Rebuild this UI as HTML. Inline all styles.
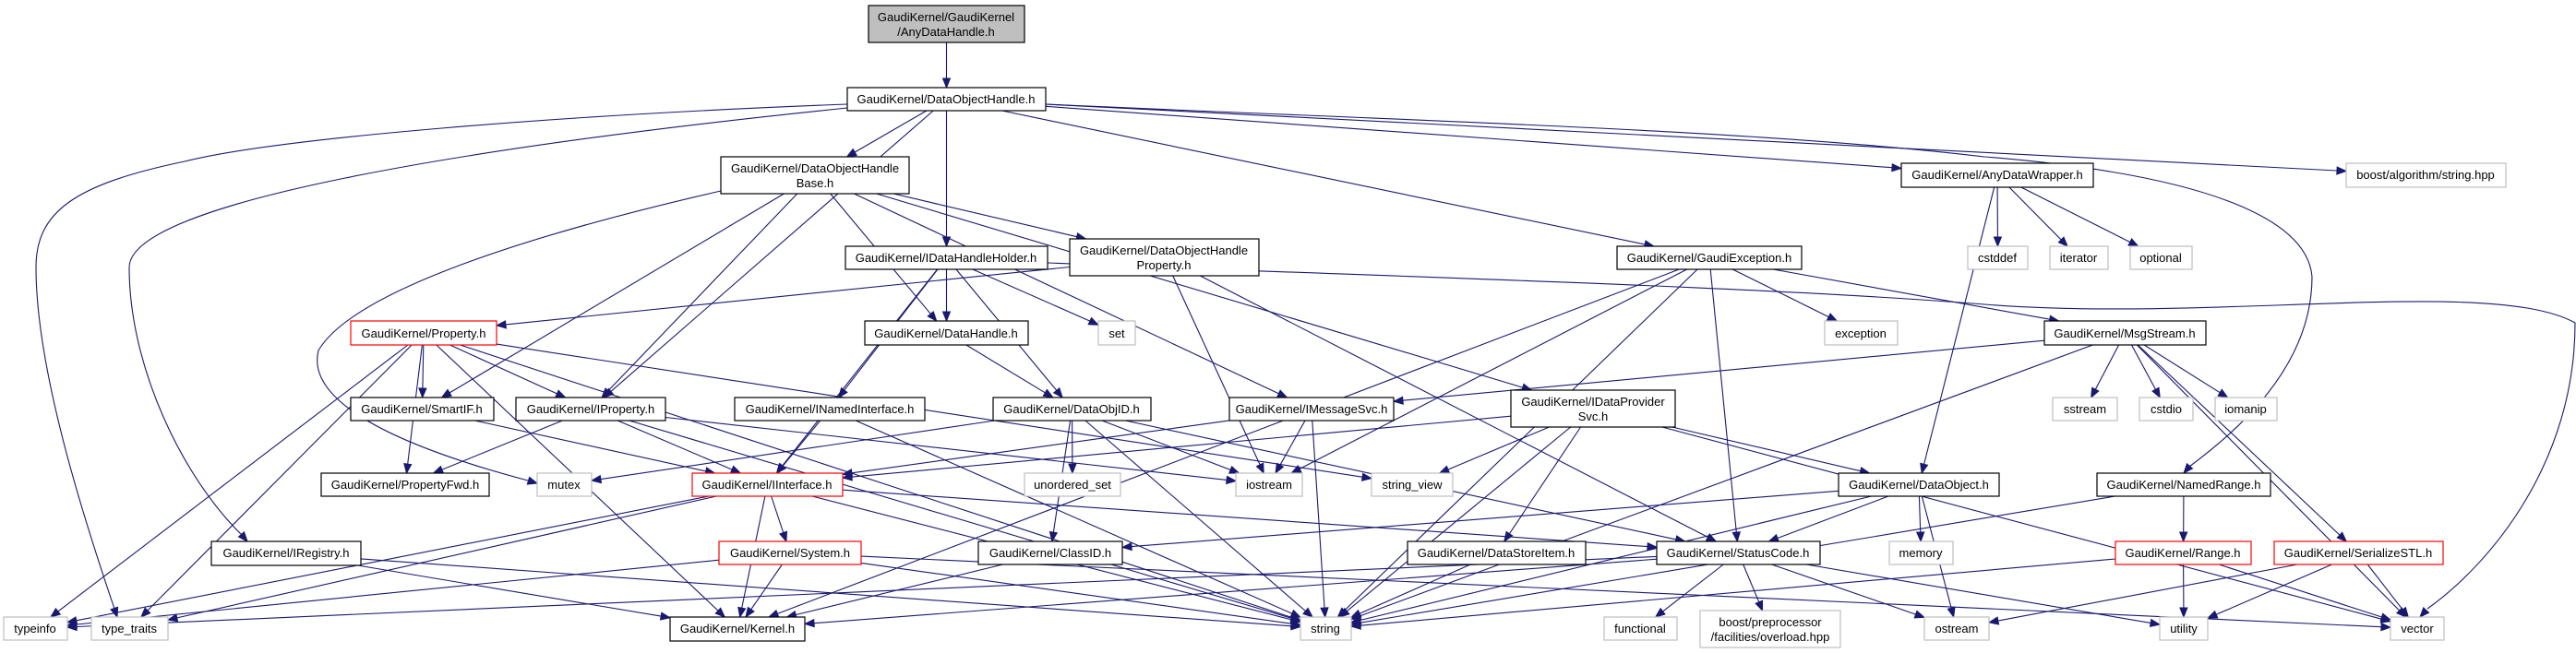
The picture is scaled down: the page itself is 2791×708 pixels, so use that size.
<!DOCTYPE html>
<html><head><meta charset="utf-8"><style>
html,body{margin:0;padding:0;background:#fff}
svg{display:block}
text{font-family:"Liberation Sans",sans-serif;font-size:13px;fill:#000;text-anchor:middle}
.n{fill:#fff;stroke:#000;stroke-width:1.2}
.g{fill:#fff;stroke:#bfbfbf;stroke-width:1.2}
.r{fill:#fff;stroke:#ff0000;stroke-width:1.2}
.e{stroke:#191970;stroke-width:1.1;fill:none}
.a{fill:#191970;stroke:#191970}
</style></head><body>
<svg id="s" width="2791" height="708" xmlns="http://www.w3.org/2000/svg">
<g id="edges"></g>
<rect x="941" y="6" width="169" height="40" fill="#bfbfbf" stroke="#000" stroke-width="1.2"/><text x="1025" y="23">GaudiKernel/GaudiKernel</text><text x="1025" y="39">/AnyDataHandle.h</text>
<rect class="n" x="918" y="95" width="215" height="25"/><text x="1025" y="112">GaudiKernel/DataObjectHandle.h</text>
<rect class="n" x="781" y="170" width="204" height="40"/><text x="883" y="187">GaudiKernel/DataObjectHandle</text><text x="883" y="203">Base.h</text>
<rect class="n" x="916" y="267" width="219" height="25"/><text x="1025" y="284">GaudiKernel/IDataHandleHolder.h</text>
<rect class="n" x="1159" y="259" width="205" height="40"/><text x="1261" y="276">GaudiKernel/DataObjectHandle</text><text x="1261" y="292">Property.h</text>
<rect class="n" x="937" y="348" width="177" height="26"/><text x="1025" y="366">GaudiKernel/DataHandle.h</text>
<rect class="g" x="1190" y="348" width="40" height="26"/><text x="1210" y="366">set</text>
<rect class="r" x="380" y="348" width="158" height="26"/><text x="459" y="366">GaudiKernel/Property.h</text>
<rect class="n" x="380" y="431" width="155" height="25"/><text x="457" y="448">GaudiKernel/SmartIF.h</text>
<rect class="n" x="559" y="431" width="162" height="25"/><text x="640" y="448">GaudiKernel/IProperty.h</text>
<rect class="n" x="348" y="513" width="182" height="25"/><text x="439" y="530">GaudiKernel/PropertyFwd.h</text>
<rect class="g" x="582" y="513" width="59" height="25"/><text x="611" y="530">mutex</text>
<rect class="n" x="229" y="587" width="162" height="26"/><text x="310" y="604">GaudiKernel/IRegistry.h</text>
<rect class="g" x="4" y="669" width="69" height="25"/><text x="38" y="686">typeinfo</text>
<rect class="g" x="99" y="669" width="83" height="25"/><text x="140" y="686">type_traits</text>
<rect class="n" x="796" y="431" width="206" height="25"/><text x="899" y="448">GaudiKernel/INamedInterface.h</text>
<rect class="n" x="1076" y="431" width="171" height="25"/><text x="1161" y="448">GaudiKernel/DataObjID.h</text>
<rect class="r" x="750" y="513" width="163" height="25"/><text x="831" y="530">GaudiKernel/IInterface.h</text>
<rect class="g" x="1110" y="513" width="104" height="25"/><text x="1162" y="530">unordered_set</text>
<rect class="g" x="1339" y="513" width="72" height="25"/><text x="1375" y="530">iostream</text>
<rect class="r" x="779" y="587" width="154" height="25"/><text x="856" y="604">GaudiKernel/System.h</text>
<rect class="n" x="1060" y="587" width="156" height="25"/><text x="1138" y="604">GaudiKernel/ClassID.h</text>
<rect class="n" x="726" y="669" width="146" height="26"/><text x="799" y="686">GaudiKernel/Kernel.h</text>
<rect class="n" x="1332" y="431" width="178" height="25"/><text x="1421" y="448">GaudiKernel/IMessageSvc.h</text>
<rect class="g" x="1486" y="513" width="88" height="25"/><text x="1530" y="530">string_view</text>
<rect class="n" x="1637" y="423" width="178" height="40"/><text x="1726" y="440">GaudiKernel/IDataProvider</text><text x="1726" y="456">Svc.h</text>
<rect class="n" x="1525" y="587" width="193" height="25"/><text x="1621" y="604">GaudiKernel/DataStoreItem.h</text>
<rect class="n" x="1795" y="587" width="177" height="25"/><text x="1883" y="604">GaudiKernel/StatusCode.h</text>
<rect class="g" x="1409" y="669" width="55" height="25"/><text x="1436" y="686">string</text>
<rect class="g" x="1738" y="669" width="79" height="25"/><text x="1777" y="686">functional</text>
<rect class="g" x="1842" y="662" width="152" height="40"/><text x="1918" y="679">boost/preprocessor</text><text x="1918" y="695">/facilities/overload.hpp</text>
<rect class="g" x="1977" y="348" width="79" height="26"/><text x="2016" y="366">exception</text>
<rect class="n" x="1992" y="513" width="174" height="25"/><text x="2079" y="530">GaudiKernel/DataObject.h</text>
<rect class="g" x="2047" y="587" width="69" height="25"/><text x="2081" y="604">memory</text>
<rect class="g" x="2085" y="669" width="70" height="25"/><text x="2120" y="686">ostream</text>
<rect class="n" x="1752" y="267" width="200" height="25"/><text x="1852" y="284">GaudiKernel/GaudiException.h</text>
<rect class="n" x="2060" y="177" width="208" height="26"/><text x="2164" y="194">GaudiKernel/AnyDataWrapper.h</text>
<rect class="g" x="2542" y="177" width="173" height="26"/><text x="2628" y="194">boost/algorithm/string.hpp</text>
<rect class="g" x="2132" y="267" width="65" height="25"/><text x="2164" y="284">cstddef</text>
<rect class="g" x="2221" y="267" width="63" height="25"/><text x="2252" y="284">iterator</text>
<rect class="g" x="2308" y="267" width="67" height="25"/><text x="2341" y="284">optional</text>
<rect class="n" x="2215" y="348" width="175" height="26"/><text x="2302" y="366">GaudiKernel/MsgStream.h</text>
<rect class="g" x="2224" y="431" width="70" height="25"/><text x="2259" y="448">sstream</text>
<rect class="g" x="2318" y="431" width="58" height="25"/><text x="2347" y="448">cstdio</text>
<rect class="g" x="2400" y="431" width="67" height="25"/><text x="2433" y="448">iomanip</text>
<rect class="n" x="2272" y="513" width="188" height="25"/><text x="2366" y="530">GaudiKernel/NamedRange.h</text>
<rect class="r" x="2292" y="587" width="147" height="25"/><text x="2365" y="604">GaudiKernel/Range.h</text>
<rect class="r" x="2464" y="587" width="183" height="25"/><text x="2555" y="604">GaudiKernel/SerializeSTL.h</text>
<rect class="g" x="2340" y="669" width="52" height="25"/><text x="2366" y="686">utility</text>
<rect class="g" x="2590" y="669" width="58" height="25"/><text x="2619" y="686">vector</text>
</svg>
<script>
var B={
ADH:[941,6,1110,46],DOH:[918,95,1133,120],DOHB:[781,170,985,210],IDHH:[916,267,1135,292],DOHP:[1159,259,1364,299],
DH:[937,348,1114,374],set:[1190,348,1230,374],Prop:[380,348,538,374],Smart:[380,431,535,456],IProp:[559,431,721,456],
PFwd:[348,513,530,538],mutex:[582,513,641,538],IReg:[229,587,391,613],typeinfo:[4,669,73,694],tt:[99,669,182,694],
INI:[796,431,1002,456],DOID:[1076,431,1247,456],II:[750,513,913,538],us:[1110,513,1214,538],ios:[1339,513,1411,538],
Sys:[779,587,933,612],CID:[1060,587,1216,612],Kern:[726,669,872,695],IMS:[1332,431,1510,456],sv:[1486,513,1574,538],
IDPS:[1637,423,1815,463],DSI:[1525,587,1718,612],SC:[1795,587,1972,612],str:[1409,669,1464,694],func:[1738,669,1817,694],
bpp:[1842,662,1994,702],exc:[1977,348,2056,374],DO:[1992,513,2166,538],mem:[2047,587,2116,612],ost:[2085,669,2155,694],
GE:[1752,267,1952,292],ADW:[2060,177,2268,203],bas:[2542,177,2715,203],cstddef:[2132,267,2197,292],iter:[2221,267,2284,292],
opt:[2308,267,2375,292],MS:[2215,348,2390,374],ss:[2224,431,2294,456],cstdio:[2318,431,2376,456],ioma:[2400,431,2467,456],
NR:[2272,513,2460,538],Rng:[2292,587,2439,612],SSTL:[2464,587,2647,612],util:[2340,669,2392,694],vec:[2590,669,2648,694]};
var E=[["ADH","DOH"],["DOH","DOHB"],["DOH","IDHH"],["DOH","IProp"],["DOH","GE"],["DOH","ADW"],["DOH","bas"],
["DOHB","Smart"],["DOHB","IProp"],["DOHB","DH"],["DOHB","DOHP"],["DOHB","IMS"],["DOHB","IDPS"],
["IDHH","DH"],["IDHH","set"],["IDHH","II"],["IDHH","INI"],["IDHH","DOID"],
["DOHP","Prop"],["DOHP","ios"],["DOHP","SC"],
["GE","Kern"],["GE","ios"],["GE","str"],["GE","SC"],["GE","exc"],["GE","MS"],
["ADW","cstddef"],["ADW","iter"],["ADW","opt"],["ADW","DO"],
["MS","ss"],["MS","cstdio"],["MS","ioma"],["MS","IMS"],["MS","str"],["MS","SSTL"],["MS","vec"],
["Prop","Smart"],["Prop","IProp"],["Prop","PFwd"],["Prop","typeinfo"],["Prop","tt"],["Prop","sv"],["Prop","Kern"],["Prop","str"],
["Smart","II"],["IProp","PFwd"],["IProp","II"],["IProp","str"],["IProp","ios"],
["DH","DOID"],["INI","II"],["INI","str"],
["DOID","mutex"],["DOID","us"],["DOID","ios"],["DOID","CID"],["DOID","str"],["DOID","SC"],
["IMS","II"],["IMS","ios"],["IMS","str"],
["IDPS","II"],["IDPS","sv"],["IDPS","str"],["IDPS","DSI"],["IDPS","DO"],["IDPS","vec"],
["II","Kern"],["II","Sys"],["II","SC"],["II","typeinfo"],["II","tt"],["II","str"],
["Sys","Kern"],["Sys","typeinfo"],["Sys","str"],["Sys","vec"],
["CID","Kern"],["IReg","Kern"],["IReg","str"],["DSI","str"],
["SC","Kern"],["SC","func"],["SC","bpp"],["SC","ost"],["SC","util"],["SC","typeinfo"],
["DO","CID"],["DO","SC"],["DO","mem"],["DO","ost"],["DO","str"],
["NR","Rng"],["NR","str"],["Rng","util"],["Rng","vec"],["Rng","str"],
["SSTL","ost"],["SSTL","util"],["SSTL","vec"]];
var C=[
["M918,113 C600,125 300,150 200,175 C80,200 39,230 39,290 C39,400 90,560 124,660",[124,660],[127,669]],
["M918,117 C500,160 140,220 140,290 C140,400 200,520 262,580",[262,580],[268,587]],
["M781,207 C550,260 380,320 345,380 C335,420 380,470 572,521",[572,521],[582,524]],
["M1133,113 C1500,130 1900,140 2150,170 C2400,190 2500,240 2505,300 C2505,400 2420,470 2372,506",[2372,506],[2366,513]],
["M1135,285 C1500,300 1900,310 2150,330 C2400,350 2700,300 2790,350 C2790,500 2700,610 2630,660",[2630,660],[2622,669]]
];
function clip(b,dx,dy){var w=(b[2]-b[0])/2,h=(b[3]-b[1])/2;var tx=dx?w/Math.abs(dx):1e9,ty=dy?h/Math.abs(dy):1e9;return Math.min(tx,ty);}
function arrow(bx,by,x2,y2){var L=Math.hypot(x2-bx,y2-by),ux=(x2-bx)/L,uy=(y2-by)/L;bx=x2-ux*10;by=y2-uy*10;
return '<polygon class="a" points="'+x2.toFixed(1)+','+y2.toFixed(1)+' '+(bx-uy*4).toFixed(1)+','+(by+ux*4).toFixed(1)+' '+(bx+uy*4).toFixed(1)+','+(by-ux*4).toFixed(1)+'"/>';}
var out="";
E.forEach(function(e){var s=B[e[0]],t=B[e[1]];
var sx=(s[0]+s[2])/2,sy=(s[1]+s[3])/2,tx=(t[0]+t[2])/2,ty=(t[1]+t[3])/2;
var dx=tx-sx,dy=ty-sy;var k1=clip(s,dx,dy),k2=clip(t,-dx,-dy);
var x1=sx+dx*k1,y1=sy+dy*k1,x2=tx-dx*k2,y2=ty-dy*k2;
var L=Math.hypot(x2-x1,y2-y1),ux=(x2-x1)/L,uy=(y2-y1)/L;
var bx=x2-ux*10,by=y2-uy*10;
out+='<path class="e" d="M'+x1.toFixed(1)+','+y1.toFixed(1)+'L'+bx.toFixed(1)+','+by.toFixed(1)+'"/>';
out+=arrow(x1,y1,x2,y2);
});
C.forEach(function(c){out+='<path class="e" d="'+c[0]+'"/>'+arrow(c[1][0],c[1][1],c[2][0],c[2][1]);});
document.getElementById("edges").innerHTML=out;
</script>
</body></html>
